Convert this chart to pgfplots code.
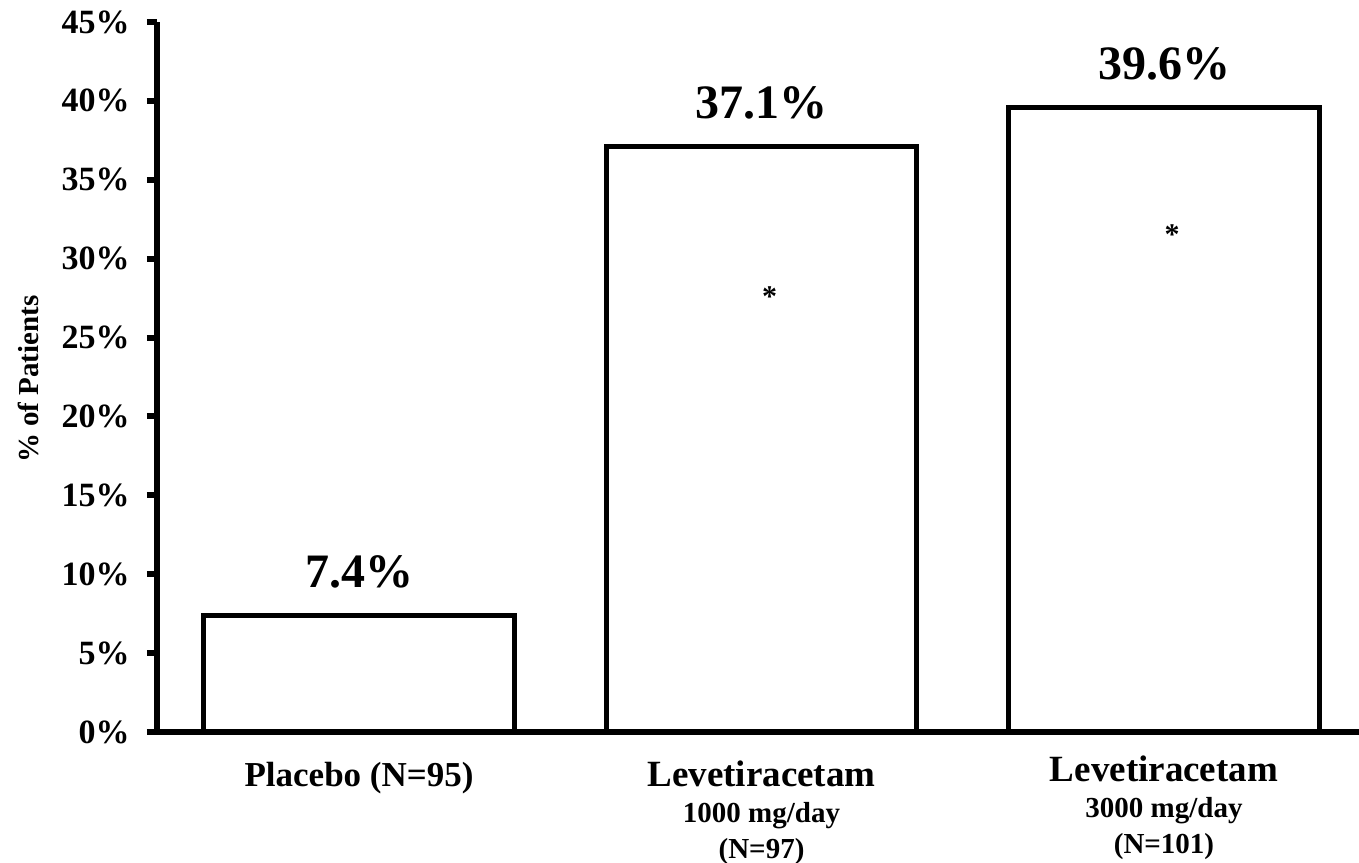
\documentclass[border=0pt]{standalone}
\usepackage{fontspec}
\setmainfont{Liberation Serif}
\usepackage{pgfplots}
\pgfplotsset{compat=1.18}
\usetikzlibrary{calc}

\begin{document}
\begin{tikzpicture}
\begin{axis}[
    scale only axis,
    width=601pt, height=355pt,
    ybar, bar width=155.25pt,
    xmin=-0.502, xmax=2.4845,
    ymin=0, ymax=45,
    axis x line=bottom, axis y line=left,
    axis line style={-, line width=3pt},
    clip=false,
    xtick=data,
    x tick style={draw=none},
    xticklabels={
        {\rule{0pt}{15.5pt}\fontsize{17.5}{18}\selectfont Placebo (N=95)},
        {\rule{0pt}{15.5pt}{\fontsize{18.5}{18}\selectfont Levetiracetam}\\ 1000 mg/day\\ (N=97)},
        {\rule{0pt}{13pt}{\fontsize{18.5}{18}\selectfont Levetiracetam}\\ 3000 mg/day\\ (N=101)}},
    xticklabel style={anchor=north, align=center, inner sep=0pt,
        font=\fontsize{14.5}{18}\selectfont\bfseries, yshift=-6.5pt},
    ytick={0,5,...,45},
    yticklabel={\pgfmathprintnumber{\tick}\%},
    /pgf/number format/assume math mode=true,
    y tick style={line width=3pt, black},
    major tick length=5pt, tick align=outside,
    yticklabel style={font=\fontsize{17}{17}\selectfont\bfseries, inner sep=0pt,
        anchor=east, xshift=-8.5pt},
    ylabel={\% of Patients},
    ylabel style={font=\fontsize{14.5}{14.5}\selectfont\bfseries,
        at={(axis description cs:0,0.497)}, anchor=center, yshift=64.5pt},
    nodes near coords={\pgfmathprintnumber[fixed,precision=1,fixed zerofill]{\pgfplotspointmeta}\%},
    every node near coord/.append style={font=\fontsize{24}{24}\selectfont\bfseries,
        anchor=base, yshift=14pt, inner sep=0pt},
]
\addplot[draw=black, fill=white, line width=2.6pt] coordinates {(0,7.4) (1,37.1) (2,39.6)};
\node[font=\fontsize{15}{15}\selectfont\bfseries] at (axis cs:1.02,27.6) {*};
\node[font=\fontsize{15}{15}\selectfont\bfseries] at (axis cs:2.02,31.5) {*};
\coordinate (bl) at (rel axis cs:0,0);
\coordinate (tr) at (rel axis cs:1,1);
\end{axis}
\pgfresetboundingbox
\useasboundingbox ($(bl)+(-78.5pt,-65.5pt)$) rectangle ($(tr)+(0,11pt)$);
\end{tikzpicture}
\end{document}
